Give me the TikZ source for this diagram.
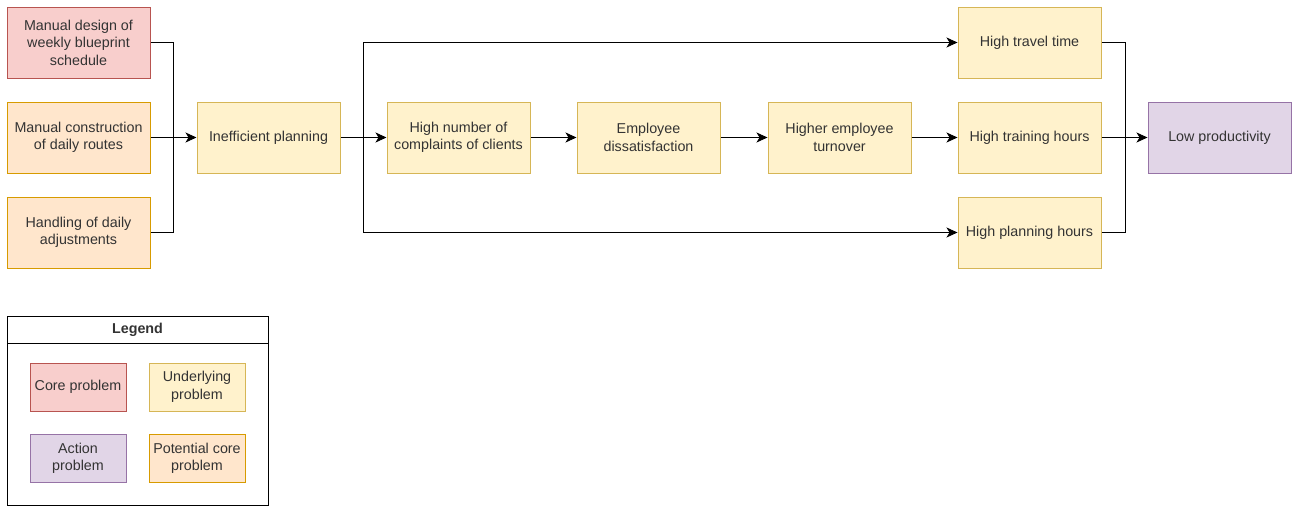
\documentclass[tikz,border=0pt]{standalone}
\usepackage{fontspec}
\setmainfont{Liberation Sans}
\usetikzlibrary{arrows.meta}
\definecolor{redfill}{HTML}{F8CECC}\definecolor{redline}{HTML}{B85450}
\definecolor{yelfill}{HTML}{FFF2CC}\definecolor{yelline}{HTML}{D6B656}
\definecolor{orafill}{HTML}{FFE6CC}\definecolor{oraline}{HTML}{D79B00}
\definecolor{purfill}{HTML}{E1D5E7}\definecolor{purline}{HTML}{9673A6}
\definecolor{txt}{HTML}{333333}
\tikzset{
  box/.style={draw, line width=1pt, minimum width=143pt, minimum height=71pt, inner sep=0pt,
    align=center, text=txt, font=\fontsize{14.3}{17.5}\selectfont},
  lbox/.style={box, minimum width=96pt, minimum height=48pt},
  corebox/.style={fill=redfill, draw=redline},
  undbox/.style={fill=yelfill, draw=yelline},
  potbox/.style={fill=orafill, draw=oraline},
  actbox/.style={fill=purfill, draw=purline},
  conn/.style={line width=1pt, black},
  arr/.style={conn, -{Stealth[length=11pt,width=10pt,inset=3pt]}},
}
\begin{document}
\begin{tikzpicture}[x=1pt,y=-1pt]
\useasboundingbox (0,0) rectangle (1292,506);
% left column
\node[box,corebox] (m1) at (78.5,42.5) {Manual design of\\weekly blueprint\\schedule};
\node[box,potbox] (m2) at (78.5,137.5) {Manual construction\\of daily routes};
\node[box,potbox] (m3) at (78.5,232.5) {Handling of daily\\adjustments};
% main chain
\node[box,undbox] (ip) at (268.5,137.5) {Inefficient planning};
\node[box,undbox] (hn) at (458.5,137.5) {High number of\\complaints of clients};
\node[box,undbox] (ed) at (648.5,137.5) {Employee\\dissatisfaction};
\node[box,undbox] (ht) at (839.5,137.5) {Higher employee\\turnover};
\node[box,undbox] (tt) at (1029.5,42.5) {High travel time};
\node[box,undbox] (th) at (1029.5,137.5) {High training hours};
\node[box,undbox] (ph) at (1029.5,232.5) {High planning hours};
\node[box,actbox] (lp) at (1219.5,137.5) {Low productivity};
% junctions
\coordinate (j1) at (173,137.5);
\coordinate (j2) at (363,137.5);
\coordinate (j3) at (1125,137.5);
% connectors
\draw[conn] (m1.east) -| (j1);
\draw[conn] (m3.east) -| (j1);
\draw[arr] (m2.east) -- (ip.west);
\draw[arr] (ip.east) -- (hn.west);
\draw[arr] (j2) |- (tt.west);
\draw[arr] (j2) |- (ph.west);
\draw[arr] (hn.east) -- (ed.west);
\draw[arr] (ed.east) -- (ht.west);
\draw[arr] (ht.east) -- (th.west);
\draw[conn] (tt.east) -| (j3);
\draw[conn] (ph.east) -| (j3);
\draw[arr] (th.east) -- (lp.west);
% legend
\node[draw=black, line width=1pt, minimum width=261pt, minimum height=189pt, inner sep=0pt]
  (lg) at (137.5,410.5) {};
\node[draw=black, line width=1pt, minimum width=261pt, minimum height=27pt, inner sep=0pt,
  anchor=north, font=\bfseries\fontsize{14.3}{17.5}\selectfont, text=txt] (lt) at (lg.north) {Legend};
\node[lbox,corebox] (l1) at (78,387) {Core problem};
\node[lbox,undbox] (l2) at (197,387) {Underlying\\problem};
\node[lbox,actbox] (l3) at (78,458.5) {Action\\problem};
\node[lbox,potbox] (l4) at (197,458.5) {Potential core\\problem};
\end{tikzpicture}
\end{document}
